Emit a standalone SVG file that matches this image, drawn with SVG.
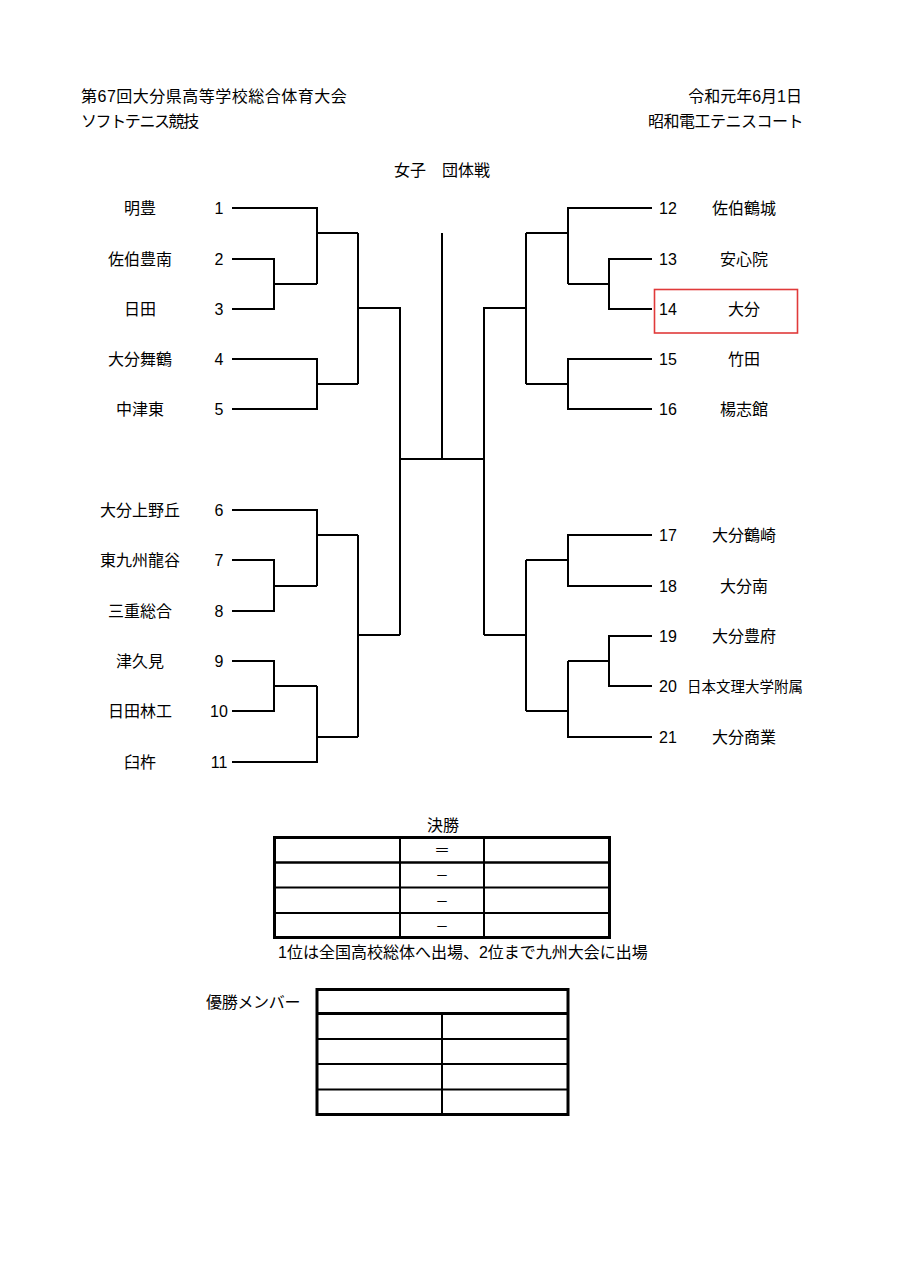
<svg xmlns="http://www.w3.org/2000/svg" width="905" height="1280" viewBox="0 0 905 1280">
<style>
text{font-family:"Liberation Sans","Noto Sans CJK JP",sans-serif;font-size:16px;fill:#000}
.c{text-anchor:middle}
.e{text-anchor:end}
.br{fill:none;stroke:#000;stroke-width:2}
.tb{fill:none;stroke:#000}
</style>
<rect width="905" height="1280" fill="#fff"/>
<g id="header">
<text x="81" y="102" style="letter-spacing:0.5px">第67回大分県高等学校総合体育大会</text>
<text x="81" y="127" style="letter-spacing:-1.4px">ソフトテニス競技</text>
<text class="e" x="802" y="102">令和元年6月1日</text>
<text class="e" x="803" y="127" style="letter-spacing:-0.5px">昭和電工テニスコート</text>
<text class="c" x="442" y="176">女子　団体戦</text>
</g>
<g id="connectors" class="br">
<path d="M232 208H317V284M232 259H274V309H232M274 284H317M317 233H358M232 359H317V409H232M317 384H358M358 233V384M358 308H400V635M400 459H484M442 233V459"/>
<path d="M232 510H317V586M232 560H274V611H232M274 586H317M317 535H358M232 661H274V711H232M274 686H317M232 762H317V686M317 737H358M358 535V737M358 635H400"/>
<path d="M652 208H568V284M652 259H609V309H652M609 284H568M568 233H526M652 359H568V409H652M568 384H526M526 233V384M526 308H484V635"/>
<path d="M652 535H568V586H652M568 560H526M652 636H609V686H652M609 661H568M652 737H568V661M568 711H526M526 560V711M526 635H484"/>
</g>
<g id="team1"><text class="c" x="140" y="214">明豊</text><text class="c" x="219" y="214">1</text></g>
<g id="team2"><text class="c" x="140" y="265">佐伯豊南</text><text class="c" x="219" y="265">2</text></g>
<g id="team3"><text class="c" x="140" y="315">日田</text><text class="c" x="219" y="315">3</text></g>
<g id="team4"><text class="c" x="140" y="365">大分舞鶴</text><text class="c" x="219" y="365">4</text></g>
<g id="team5"><text class="c" x="140" y="415">中津東</text><text class="c" x="219" y="415">5</text></g>
<g id="team6"><text class="c" x="140" y="516">大分上野丘</text><text class="c" x="219" y="516">6</text></g>
<g id="team7"><text class="c" x="140" y="566">東九州龍谷</text><text class="c" x="219" y="566">7</text></g>
<g id="team8"><text class="c" x="140" y="617">三重総合</text><text class="c" x="219" y="617">8</text></g>
<g id="team9"><text class="c" x="140" y="667">津久見</text><text class="c" x="219" y="667">9</text></g>
<g id="team10"><text class="c" x="140" y="717">日田林工</text><text class="c" x="219" y="717">10</text></g>
<g id="team11"><text class="c" x="140" y="768">臼杵</text><text class="c" x="219" y="768">11</text></g>
<g id="team12"><text x="659" y="214">12</text><text class="c" x="744" y="214">佐伯鶴城</text></g>
<g id="team13"><text x="659" y="265">13</text><text class="c" x="744" y="265">安心院</text></g>
<g id="team14"><rect x="654.5" y="289.5" width="143" height="43.5" fill="none" stroke="#e03a3a" stroke-width="1.6"/><text x="659" y="315">14</text><text class="c" x="744" y="315">大分</text></g>
<g id="team15"><text x="659" y="365">15</text><text class="c" x="744" y="365">竹田</text></g>
<g id="team16"><text x="659" y="415">16</text><text class="c" x="744" y="415">楊志館</text></g>
<g id="team17"><text x="659" y="541">17</text><text class="c" x="744" y="541">大分鶴崎</text></g>
<g id="team18"><text x="659" y="592">18</text><text class="c" x="744" y="592">大分南</text></g>
<g id="team19"><text x="659" y="642">19</text><text class="c" x="744" y="642">大分豊府</text></g>
<g id="team20"><text x="659" y="692">20</text><text class="c" x="745" y="692" style="font-size:14.5px">日本文理大学附属</text></g>
<g id="team21"><text x="659" y="743">21</text><text class="c" x="744" y="743">大分商業</text></g>
<g id="final">
<text class="c" x="443" y="831">決勝</text>
<rect class="tb" x="274.5" y="837.5" width="335" height="100" stroke-width="3"/>
<line class="tb" x1="274" y1="862.5" x2="610" y2="862.5" stroke-width="2.5"/>
<line class="tb" x1="274" y1="887.5" x2="610" y2="887.5" stroke-width="2"/>
<line class="tb" x1="274" y1="913" x2="610" y2="913" stroke-width="2"/>
<line class="tb" x1="400" y1="837" x2="400" y2="938" stroke-width="2"/>
<line class="tb" x1="484" y1="837" x2="484" y2="938" stroke-width="2"/>
<text class="c" x="442" y="856">＝</text>
<text class="c" x="442" y="880" style="font-size:13px">－</text>
<text class="c" x="442" y="906" style="font-size:13px">－</text>
<text class="c" x="442" y="931" style="font-size:13px">－</text>
<text x="278" y="958">1位は全国高校総体へ出場、2位まで九州大会に出場</text>
</g>
<g id="members">
<text x="206" y="1008" style="letter-spacing:-0.3px">優勝メンバー</text>
<rect class="tb" x="317" y="989.5" width="251" height="125" stroke-width="3"/>
<line class="tb" x1="317" y1="1013.5" x2="568" y2="1013.5" stroke-width="3"/>
<line class="tb" x1="317" y1="1039" x2="568" y2="1039" stroke-width="2"/>
<line class="tb" x1="317" y1="1064" x2="568" y2="1064" stroke-width="2"/>
<line class="tb" x1="317" y1="1089.5" x2="568" y2="1089.5" stroke-width="2"/>
<line class="tb" x1="442" y1="1013" x2="442" y2="1115" stroke-width="2"/>
</g>
</svg>
